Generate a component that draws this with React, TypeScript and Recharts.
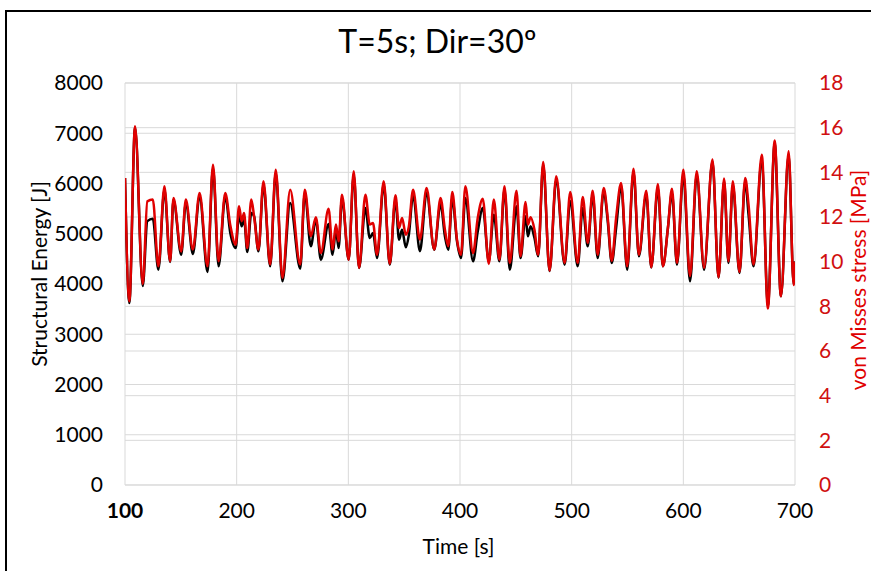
import React from "react";
import { LineChart, Line, XAxis, YAxis, CartesianGrid } from "recharts";

const TIMES = [
  100, 103.9, 109, 115.9, 120, 124.9, 129.9, 135.3, 140.4, 143.4,
  150.3, 154.5, 160.8, 166.8, 173.9, 178.8, 183.8, 189.8, 194.3, 199.1,
  202.1, 204.5, 206.6, 209.5, 213.1, 215.6, 219.5, 224, 230, 235,
  241, 247.9, 256.9, 261, 266.4, 270.9, 275.4, 282.3, 285.9, 288.9,
  291.3, 294.3, 300.3, 304.8, 309.6, 315.3, 319.2, 322.1, 325.7, 331.7,
  337.1, 342.2, 345.4, 348.1, 351.5, 354.2, 358, 364.1, 370.1, 376.9,
  382.6, 386.5, 389.5, 393.1, 397.3, 400.9, 404.8, 411.7, 415.9, 420.4,
  425.8, 430.3, 435.3, 439.8, 444.6, 450.6, 454.2, 458.7, 460.8, 463.2,
  466.7, 470, 474.5, 480.2, 486.2, 493.7, 498.7, 505.4, 509.9, 514.4,
  518.8, 523.3, 528.7, 532.3, 535.9, 539.8, 544.3, 549.7, 555.4, 560.2,
  566.8, 571.3, 577.2, 581.7, 586.2, 589.8, 594.3, 600, 606, 612,
  618.6, 626.1, 631.5, 636.5, 640.4, 644.3, 650.3, 655.4, 658.4, 662.9,
  670.3, 675.7, 681.8, 687.4, 694.3, 698.8, 700,
];

// von Misses stress [MPa]
const STRESS = [
  13.75, 8.23, 16.06, 9.0, 12.7, 12.78, 9.79, 13.38, 10.02, 12.85,
  10.46, 12.78, 10.54, 13.08, 9.79, 14.34, 10.02, 13.08, 11.63, 10.76,
  12.48, 11.81, 12.18, 10.61, 12.78, 12.03, 10.54, 13.6, 9.87, 14.12,
  9.27, 13.22, 9.87, 13.22, 11.14, 11.99, 10.39, 12.37, 10.54, 11.66,
  10.91, 13.0, 10.09, 14.05, 9.72, 13.0, 11.66, 11.73, 10.31, 13.6,
  9.9, 12.97, 11.51, 11.96, 11.21, 11.58, 13.22, 10.99, 13.3, 10.54,
  12.85, 11.43, 10.69, 13.12, 10.99, 10.31, 13.38, 10.39, 11.96, 12.82,
  9.9, 12.78, 10.09, 13.38, 9.94, 13.18, 10.24, 12.67, 11.66, 11.99,
  11.43, 10.31, 14.46, 9.6, 13.82, 9.94, 13.12, 9.94, 12.9, 10.84,
  13.18, 10.31, 13.3, 11.96, 10.04, 11.96, 13.52, 9.79, 14.16, 10.31,
  13.18, 9.75, 13.48, 9.79, 11.51, 13.27, 9.94, 14.12, 9.35, 14.05,
  9.72, 14.57, 9.3, 13.72, 10.02, 13.6, 9.54, 13.75, 12.55, 9.87,
  14.79, 7.9, 15.42, 8.45, 14.94, 8.95, 10.0,
];

// Structural Energy [J]
const ENERGY = [
  6110, 3620, 7120, 3960, 5250, 5300, 4285, 5877, 4440, 5678,
  4583, 5612, 4597, 5745, 4239, 6308, 4352, 5745, 5015, 4716,
  5379, 5148, 5313, 4637, 5413, 5347, 4650, 5976, 4352, 6209,
  4054, 5612, 4304, 5811, 4750, 5280, 4484, 5194, 4583, 5080,
  4716, 5711, 4484, 6175, 4318, 5512, 4915, 5015, 4517, 5976,
  4384, 5678, 4882, 5080, 4730, 4981, 5777, 4650, 5811, 4683,
  5592, 4949, 4683, 5711, 4849, 4517, 5711, 4452, 5048, 5512,
  4452, 5379, 4452, 5877, 4285, 5546, 4517, 5347, 4949, 5148,
  4915, 4551, 6374, 4260, 6076, 4384, 5650, 4352, 5512, 4750,
  5777, 4517, 5844, 5247, 4418, 5114, 5944, 4285, 6229, 4551,
  5777, 4330, 5910, 4352, 5114, 5811, 4384, 6175, 4054, 6175,
  4285, 6440, 4130, 6043, 4418, 5976, 4219, 6043, 5379, 4352,
  6473, 3556, 6806, 3755, 6573, 4000, 4450,
];

const X_TICKS = [100, 200, 300, 400, 500, 600, 700];
const LEFT_TICKS = [0, 1000, 2000, 3000, 4000, 5000, 6000, 7000, 8000];
const RIGHT_TICKS = [0, 2, 4, 6, 8, 10, 12, 14, 16, 18];

const data = TIMES.map((t, i) => ({ t, energy: ENERGY[i], stress: STRESS[i] }));

const FONT = "Lato, 'Open Sans', sans-serif";
const RED = "#e00000";
const TICK_RED = "#d01010";

const XTick = (props: any) => {
  const { x, y, payload } = props;
  return (
    <text
      x={x}
      y={y}
      dy="0.71em"
      textAnchor="middle"
      fill="#000"
      fontSize={21}
      fontFamily={FONT}
      fontWeight={payload.value === 100 ? 700 : 400}
    >
      {payload.value}
    </text>
  );
};

export default function App() {
  return (
    <div style={{ position: "fixed", left: 0, top: 0, right: 0, bottom: 0, overflow: "hidden", background: "#fff", fontFamily: FONT }}>
      <div style={{ position: "absolute", left: 5, top: 10, width: 900, height: 2, background: "#000" }} />
      <div style={{ position: "absolute", left: 5, top: 10, width: 2, height: 600, background: "#000" }} />
      <div style={{ position: "absolute", left: 0, width: 871, top: 21, textAlign: "center", fontSize: 32, color: "#000", lineHeight: "40px" }}>
        <span style={{ position: "relative", left: 2 }}>T=5s; Dir=30º</span>
      </div>
      <div style={{ position: "absolute", left: 38, top: 274, transform: "translate(-50%, -50%) rotate(-90deg)", whiteSpace: "nowrap", fontSize: 21 }}>
        Structural Energy [J]
      </div>
      <div style={{ position: "absolute", left: 857, top: 280, transform: "translate(-50%, -50%) rotate(-90deg)", whiteSpace: "nowrap", fontSize: 21, color: RED }}>
        von Misses stress [MPa]
      </div>
      <div style={{ position: "absolute", left: 0, width: 871, top: 533, textAlign: "center", fontSize: 21 }}>
        <span style={{ position: "relative", left: 23 }}>Time [s]</span>
      </div>
      <LineChart width={871} height={571} data={data} margin={{ top: 83, right: 0, bottom: 0, left: 0 }} style={{ position: "absolute", left: 0, top: 0 }}>
        <CartesianGrid yAxisId="left" stroke="#d9d9d9" strokeWidth={1} verticalValues={X_TICKS} />
        <CartesianGrid yAxisId="right" stroke="#d9d9d9" strokeWidth={1} vertical={false} />
        <XAxis
          dataKey="t"
          type="number"
          domain={[100, 700]}
          ticks={X_TICKS}
          height={86}
          axisLine={false}
          tickLine={false}
          tickSize={0}
          tickMargin={18}
          tick={<XTick />}
          allowDataOverflow
        />
        <YAxis
          yAxisId="left"
          orientation="left"
          width={125}
          domain={[0, 8000]}
          ticks={LEFT_TICKS}
          axisLine={false}
          tickLine={false}
          tickSize={0}
          tickMargin={22}
          tick={{ fill: "#000", fontSize: 21, fontFamily: FONT }}
        />
        <YAxis
          yAxisId="right"
          orientation="right"
          width={76}
          domain={[0, 18]}
          ticks={RIGHT_TICKS}
          axisLine={false}
          tickLine={false}
          tickSize={0}
          tickMargin={24}
          tick={{ fill: TICK_RED, fontSize: 21, fontFamily: FONT }}
        />
        <Line yAxisId="left" dataKey="energy" type="monotone" stroke="#000" strokeWidth={2.5} dot={false} isAnimationActive={false} />
        <Line yAxisId="right" dataKey="stress" type="monotone" stroke={RED} strokeWidth={2.5} dot={false} isAnimationActive={false} />
      </LineChart>
    </div>
  );
}
